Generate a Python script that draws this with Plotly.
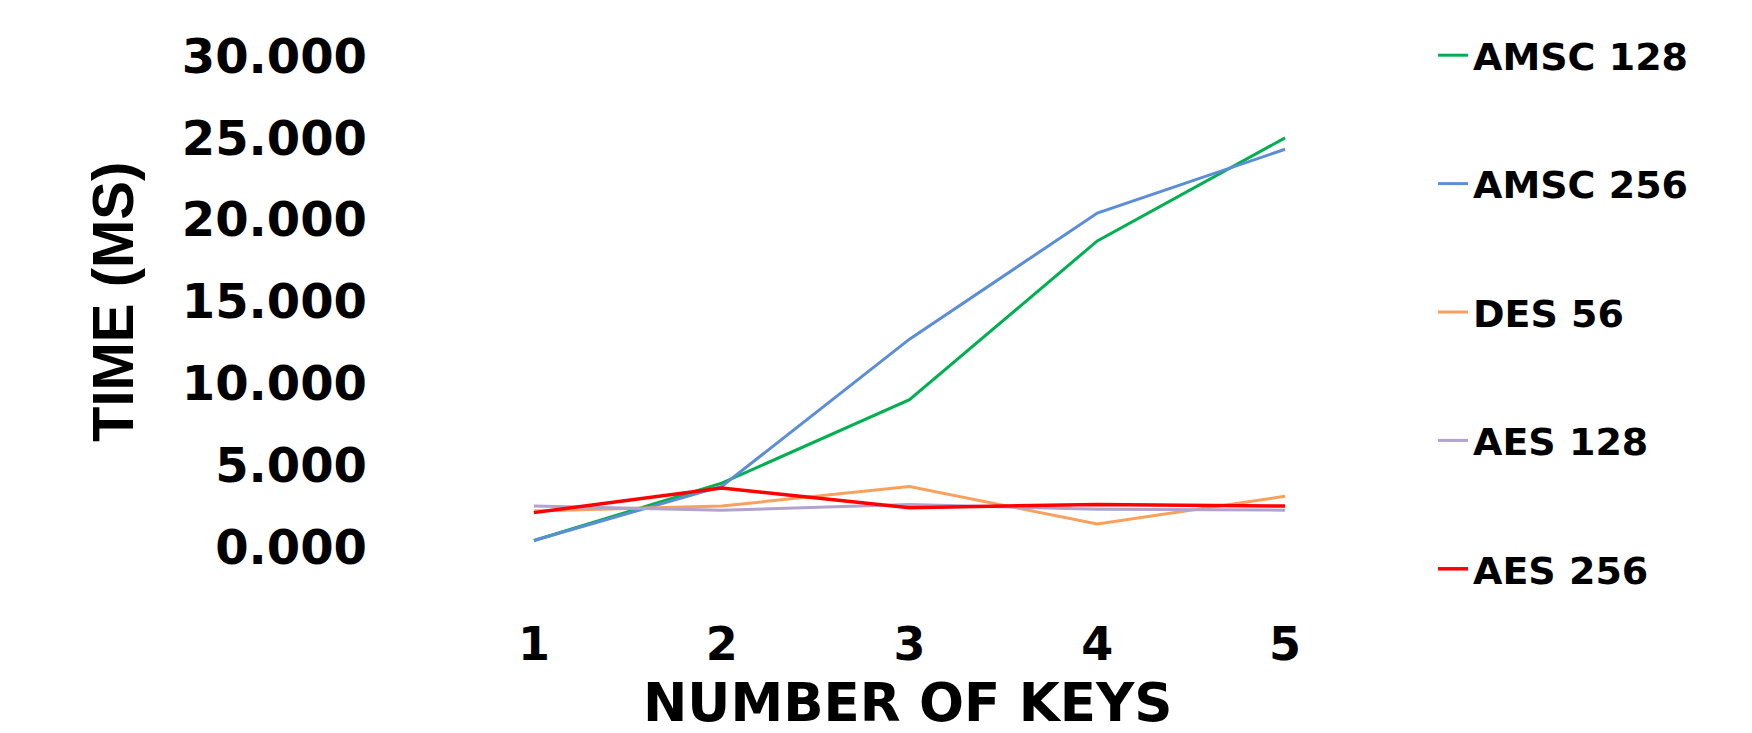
import plotly.graph_objects as go

keys = [1, 2, 3, 4, 5]
tick_text = ["1", "2", "3", "4", "5"]
series_names = ["AMSC 128", "AMSC 256", "DES 56", "AES 128", "AES 256"]
amsc128 = [0.4, 3.9, 9.0, 18.7, 25.0]
amsc256 = [0.4, 3.7, 12.7, 20.4, 24.3]
des56 = [2.2, 2.5, 3.7, 1.4, 3.1]
aes128 = [2.5, 2.25, 2.6, 2.3, 2.25]
aes256 = [2.1, 3.6, 2.4, 2.6, 2.5]
y_ticks = [0, 5, 10, 15, 20, 25, 30]
y_tick_text = ["0.000", "5.000", "10.000", "15.000", "20.000", "25.000", "30.000"]

colors = ["#00B050", "#5B8ED6", "#F9A05C", "#B1A2CE", "#FF0000"]
widths = [3, 3, 3, 3, 3.5]
values = [amsc128, amsc256, des56, aes128, aes256]

W, H = 1752, 733
L, R, T, B = 440, 373, 56, 186
pw, ph = W - L - R, H - T - B

fig = go.Figure()
for i, (name, vals) in enumerate(zip(series_names, values)):
    fig.add_trace(go.Scatter(
        x=keys, y=vals, mode="lines", name=name,
        line=dict(color=colors[i], width=widths[i]),
        legendgroup=name,
    ))

font_bold = "DejaVu Sans"
fig.update_layout(
    width=W, height=H,
    margin=dict(l=L, r=R, t=T, b=B, pad=0),
    plot_bgcolor="white", paper_bgcolor="white",
    showlegend=True,
    legend=dict(
        x=(1433 - L) / pw, xanchor="left",
        y=(H - B - 24) / ph, yanchor="top",
        font=dict(family=font_bold, size=38, color="black", weight="bold"),
        tracegroupgap=76,
        bgcolor="rgba(0,0,0,0)",
        maxheight=720,
    ),
    xaxis=dict(
        range=[0.5, 5.5], tickvals=keys, ticktext=tick_text,
        showgrid=False, zeroline=False, showline=False,
        ticks="", ticklabelstandoff=66,
        tickfont=dict(family=font_bold, size=46, color="black", weight="bold"),
    ),
    yaxis=dict(
        range=[0, 30], tickvals=y_ticks, ticktext=y_tick_text,
        showgrid=False, zeroline=False, showline=False,
        ticks="", ticklabelstandoff=72,
        tickfont=dict(family=font_bold, size=48, color="black", weight="bold"),
    ),
    annotations=[
        dict(text="NUMBER OF KEYS", xref="paper", yref="paper",
             x=(908 - L) / pw, y=(H - B - 702) / ph, xanchor="center", yanchor="middle",
             showarrow=False,
             font=dict(family=font_bold, size=53, color="black", weight="bold")),
        dict(text="TIME (MS)", xref="paper", yref="paper",
             x=(112 - L) / pw, y=(H - B - 302) / ph, xanchor="center", yanchor="middle",
             textangle=-90, showarrow=False,
             font=dict(family="Liberation Sans", size=58, color="black", weight="bold")),
    ],
)

fig.write_html("out.html")
